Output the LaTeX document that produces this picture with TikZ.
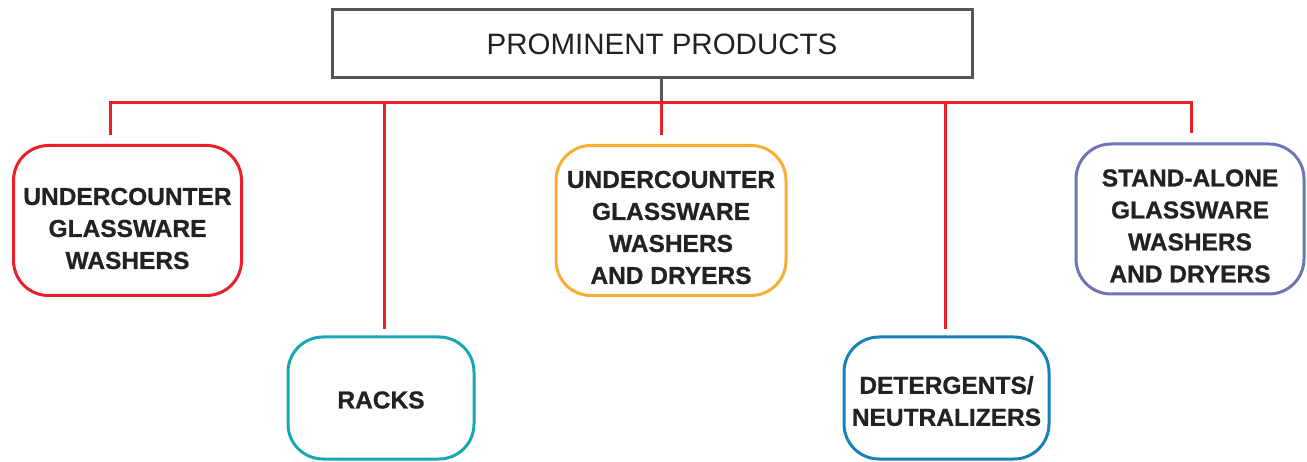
\documentclass[tikz,border=0pt]{standalone}
\usepackage{fontspec}
\setmainfont{Liberation Sans}
\newfontfamily\boxfont[FakeBold=0.8]{Liberation Sans Bold}
\definecolor{cred}{HTML}{E8202A}
\definecolor{cteal}{HTML}{17A8B0}
\definecolor{corange}{HTML}{F9AE33}
\definecolor{cblue}{HTML}{1682B8}
\definecolor{cpurple}{HTML}{6E74B8}
\definecolor{cgray}{HTML}{555555}
\definecolor{ctext}{HTML}{222222}
\begin{document}
\begin{tikzpicture}[x=1pt,y=-1pt,
  catbox/.style={draw, line width=3pt, rounded corners=35pt, inner sep=0pt},
  boxtext/.style={align=center, text=ctext, inner sep=0pt,
    font=\boxfont\fontsize{24.5}{32}\selectfont},
  titlebox/.style={draw=cgray, line width=3pt, minimum width=640pt, minimum height=68pt, inner sep=0pt},
  titletext/.style={text=ctext, font=\fontsize{29.5}{34}\selectfont, inner sep=0pt},
  bus/.style={draw=cred, line width=3pt},
  stem/.style={draw=cgray, line width=3pt}]
\useasboundingbox (0,0) rectangle (1307,462);
\node[titlebox] (title) at (652,44) {};
\node[titletext] (tt) at (662,44) {PROMINENT PRODUCTS};
\node[catbox, draw=cred, minimum width=228pt, minimum height=150pt] (b1) at (127.5,220.5) {};
\node[catbox, draw=cteal, minimum width=186pt, minimum height=122pt] (b2) at (381,398) {};
\node[catbox, draw=corange, minimum width=230pt, minimum height=150pt] (b3) at (671,220.5) {};
\node[catbox, draw=cblue, minimum width=205pt, minimum height=122pt] (b4) at (946.5,398) {};
\node[catbox, draw=cpurple, minimum width=228pt, minimum height=150pt] (b5) at (1190,219) {};
\node[boxtext] (t1) at ([yshift=-8pt]b1.center) {UNDERCOUNTER\\GLASSWARE\\WASHERS};
\node[boxtext] (t2) at ([yshift=-2pt]b2.center) {RACKS};
\node[boxtext] (t3) at ([yshift=-7pt]b3.center) {UNDERCOUNTER\\GLASSWARE\\WASHERS\\AND DRYERS};
\node[boxtext] (t4) at ([yshift=-3pt]b4.center) {DETERGENTS/\\NEUTRALIZERS};
\node[boxtext] (t5) at ([yshift=-7pt]b5.center) {STAND-ALONE\\GLASSWARE\\WASHERS\\AND DRYERS};
\coordinate (j) at (661,103);
\coordinate (d1) at (110,103);
\coordinate (d2) at (384,103);
\coordinate (d4) at (945,103);
\coordinate (d5) at (1191,103);
\draw[stem] (j |- title.south) -- (j);
\draw[bus] (d1) -- (d5);
\draw[bus, shorten >=9pt] ([yshift=1.5pt]d1) -- (d1 |- b1.north);
\draw[bus, shorten >=6pt] (d2) -- (d2 |- b2.north);
\draw[bus, shorten >=9pt] (j) -- (j |- b3.north);
\draw[bus, shorten >=6pt] (d4) -- (d4 |- b4.north);
\draw[bus, shorten >=9pt] ([yshift=1.5pt]d5) -- (d5 |- b5.north);
\end{tikzpicture}
\end{document}
